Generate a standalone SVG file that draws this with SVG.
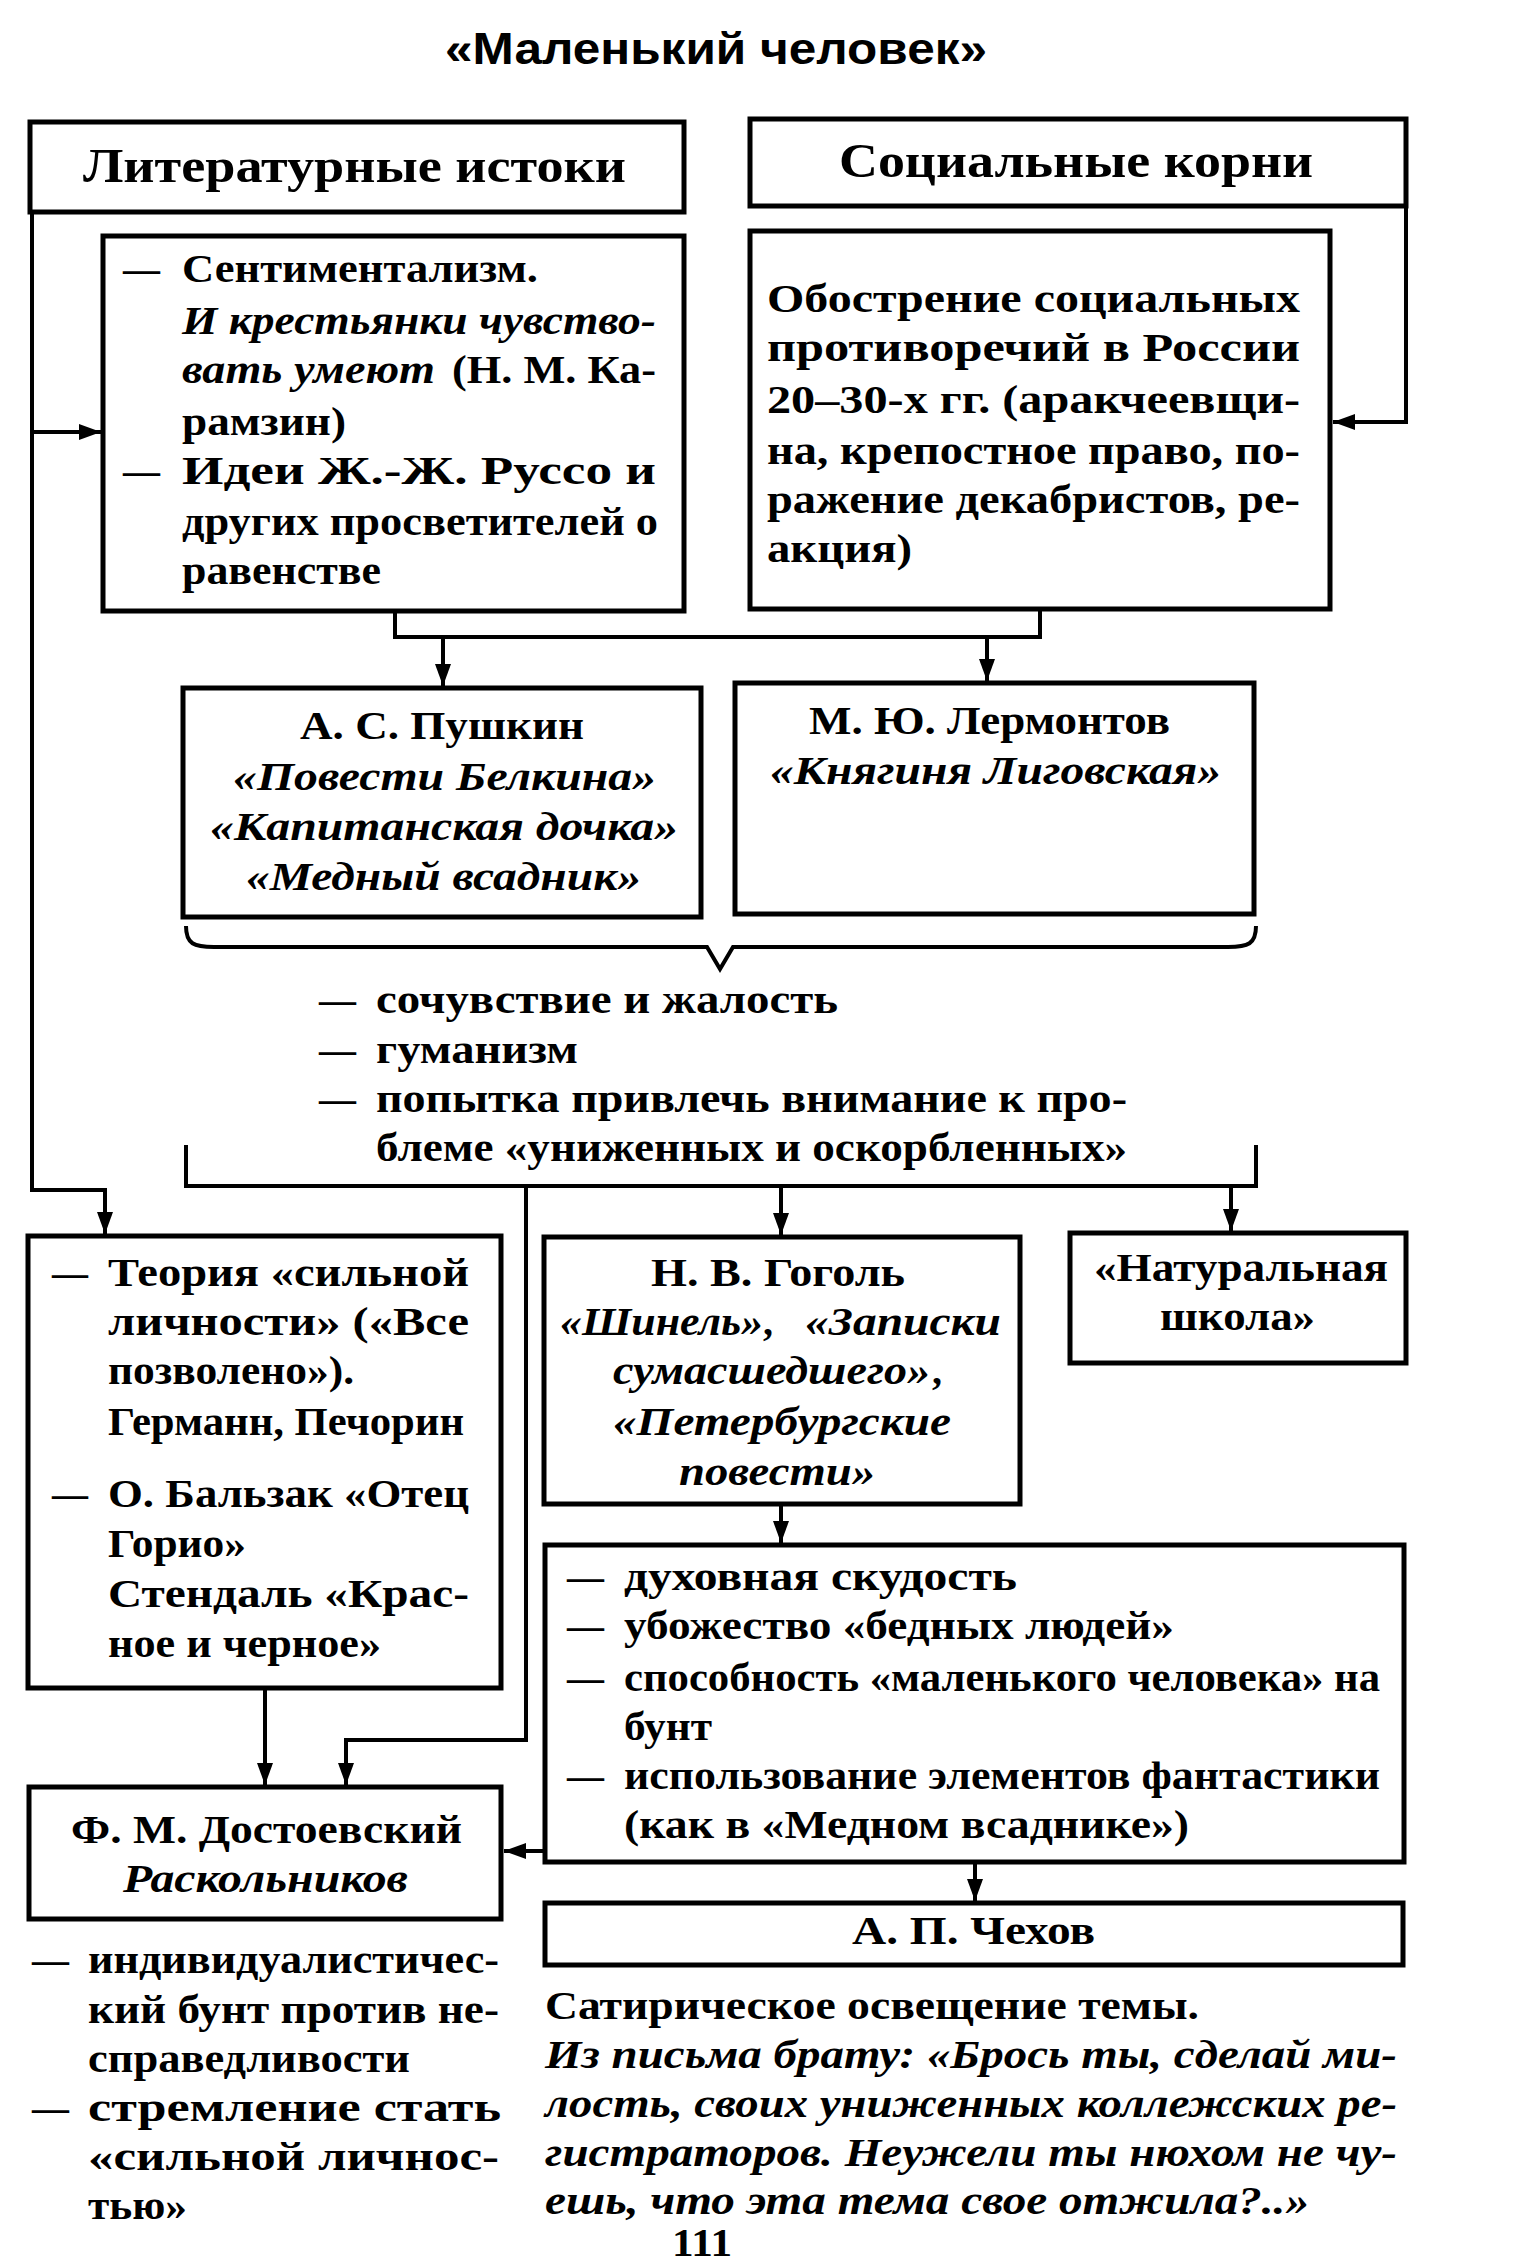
<svg xmlns="http://www.w3.org/2000/svg" width="1529" height="2267" viewBox="0 0 1529 2267">
<style>
.b{fill:#fff;stroke:#000;stroke-width:5}
.c{fill:none;stroke:#000;stroke-width:4}
.t{font-family:"Liberation Serif","DejaVu Serif",serif;font-size:40px;font-weight:bold;fill:#000}
.i{font-style:italic}
.h{font-size:48px}
.ttl{font-family:"Liberation Sans",Arial,sans-serif;font-size:44px;font-weight:bold;fill:#000}
</style>
<defs>
<marker id="ah" viewBox="0 0 22 16" refX="22" refY="8" markerWidth="22" markerHeight="16" orient="auto" markerUnits="userSpaceOnUse">
<path d="M0,0 L22,8 L0,16 z" fill="#000"/>
</marker>
</defs>
<rect x="0" y="0" width="1529" height="2267" fill="#fff"/>

<text class="ttl" x="445" y="64" textLength="542" lengthAdjust="spacingAndGlyphs">«Маленький человек»</text>

<g id="connectors">
<path class="c" d="M32 212 V1190 H105 V1234" marker-end="url(#ah)"/>
<path class="c" d="M32 432 H101" marker-end="url(#ah)"/>
<path class="c" d="M1406 206 V422 H1333" marker-end="url(#ah)"/>
<path class="c" d="M395 611 V637 H1040 V609"/>
<path class="c" d="M443 637 V686" marker-end="url(#ah)"/>
<path class="c" d="M987 637 V681" marker-end="url(#ah)"/>
<path class="c" d="M186 926 C186 944 194 947 214 947 L707 947 L720 969 L733 947 L1228 947 C1248 947 1256 944 1256 926"/>
<path class="c" d="M186 1145 V1186 H1256 V1145"/>
<path class="c" d="M781 1186 V1235" marker-end="url(#ah)"/>
<path class="c" d="M1231 1186 V1231" marker-end="url(#ah)"/>
<path class="c" d="M526 1186 V1740 H346 V1785" marker-end="url(#ah)"/>
<path class="c" d="M265 1688 V1785" marker-end="url(#ah)"/>
<path class="c" d="M781 1504 V1543" marker-end="url(#ah)"/>
<path class="c" d="M545 1851 H504" marker-end="url(#ah)"/>
<path class="c" d="M975 1862 V1901" marker-end="url(#ah)"/>
</g>

<g id="n-lit">
<rect class="b" x="30" y="122" width="654" height="90"/>
<text class="t h" x="83" y="182" textLength="543" lengthAdjust="spacingAndGlyphs">Литературные истоки</text>
</g>

<g id="n-soc">
<rect class="b" x="750" y="119" width="656" height="87"/>
<text class="t h" x="839" y="177" textLength="474" lengthAdjust="spacingAndGlyphs">Социальные корни</text>
</g>

<g id="n-sent">
<rect class="b" x="103" y="236" width="581" height="375"/>
<text class="t" x="123" y="282" textLength="37" lengthAdjust="spacingAndGlyphs">—</text>
<text class="t" x="182" y="282" textLength="356" lengthAdjust="spacingAndGlyphs">Сентиментализм.</text>
<text class="t i" x="182" y="334" textLength="474" lengthAdjust="spacingAndGlyphs">И крестьянки чувство-</text>
<text class="t i" x="182" y="383" textLength="253" lengthAdjust="spacingAndGlyphs">вать умеют</text>
<text class="t" x="452" y="383" textLength="204" lengthAdjust="spacingAndGlyphs">(Н. М. Ка-</text>
<text class="t" x="182" y="435" textLength="164" lengthAdjust="spacingAndGlyphs">рамзин)</text>
<text class="t" x="123" y="484" textLength="37" lengthAdjust="spacingAndGlyphs">—</text>
<text class="t" x="182" y="484" textLength="474" lengthAdjust="spacingAndGlyphs">Идеи Ж.-Ж. Руссо и</text>
<text class="t" x="182" y="535" textLength="476" lengthAdjust="spacingAndGlyphs">других просветителей о</text>
<text class="t" x="182" y="584" textLength="199" lengthAdjust="spacingAndGlyphs">равенстве</text>
</g>

<g id="n-obost">
<rect class="b" x="750" y="231" width="580" height="378"/>
<text class="t" x="767" y="312" textLength="533" lengthAdjust="spacingAndGlyphs">Обострение социальных</text>
<text class="t" x="767" y="361" textLength="533" lengthAdjust="spacingAndGlyphs">противоречий в России</text>
<text class="t" x="767" y="413" textLength="533" lengthAdjust="spacingAndGlyphs">20–30-х гг. (аракчеевщи-</text>
<text class="t" x="767" y="464" textLength="533" lengthAdjust="spacingAndGlyphs">на, крепостное право, по-</text>
<text class="t" x="767" y="513" textLength="533" lengthAdjust="spacingAndGlyphs">ражение декабристов, ре-</text>
<text class="t" x="767" y="562" textLength="145" lengthAdjust="spacingAndGlyphs">акция)</text>
</g>

<g id="n-pushkin">
<rect class="b" x="183" y="688" width="518" height="229"/>
<text class="t" x="300" y="739" textLength="284" lengthAdjust="spacingAndGlyphs">А. С. Пушкин</text>
<text class="t i" x="233" y="790" textLength="423" lengthAdjust="spacingAndGlyphs">«Повести Белкина»</text>
<text class="t i" x="210" y="840" textLength="468" lengthAdjust="spacingAndGlyphs">«Капитанская дочка»</text>
<text class="t i" x="246" y="890" textLength="395" lengthAdjust="spacingAndGlyphs">«Медный всадник»</text>
</g>

<g id="n-lermontov">
<rect class="b" x="735" y="683" width="519" height="231"/>
<text class="t" x="809" y="734" textLength="361" lengthAdjust="spacingAndGlyphs">М. Ю. Лермонтов</text>
<text class="t i" x="770" y="784" textLength="451" lengthAdjust="spacingAndGlyphs">«Княгиня Лиговская»</text>
</g>

<g id="n-common">
<text class="t" x="319" y="1013" textLength="37" lengthAdjust="spacingAndGlyphs">—</text>
<text class="t" x="376" y="1013" textLength="462" lengthAdjust="spacingAndGlyphs">сочувствие и жалость</text>
<text class="t" x="319" y="1063" textLength="37" lengthAdjust="spacingAndGlyphs">—</text>
<text class="t" x="376" y="1063" textLength="202" lengthAdjust="spacingAndGlyphs">гуманизм</text>
<text class="t" x="319" y="1112" textLength="37" lengthAdjust="spacingAndGlyphs">—</text>
<text class="t" x="376" y="1112" textLength="751" lengthAdjust="spacingAndGlyphs">попытка привлечь внимание к про-</text>
<text class="t" x="376" y="1161" textLength="751" lengthAdjust="spacingAndGlyphs">блеме «униженных и оскорбленных»</text>
</g>

<g id="n-teoria">
<rect class="b" x="28" y="1236" width="473" height="452"/>
<text class="t" x="52" y="1286" textLength="36" lengthAdjust="spacingAndGlyphs">—</text>
<text class="t" x="108" y="1286" textLength="361" lengthAdjust="spacingAndGlyphs">Теория «сильной</text>
<text class="t" x="108" y="1335" textLength="361" lengthAdjust="spacingAndGlyphs">личности» («Все</text>
<text class="t" x="108" y="1384" textLength="246" lengthAdjust="spacingAndGlyphs">позволено»).</text>
<text class="t" x="108" y="1435" textLength="356" lengthAdjust="spacingAndGlyphs">Германн, Печорин</text>
<text class="t" x="52" y="1507" textLength="36" lengthAdjust="spacingAndGlyphs">—</text>
<text class="t" x="108" y="1507" textLength="361" lengthAdjust="spacingAndGlyphs">О. Бальзак «Отец</text>
<text class="t" x="108" y="1557" textLength="138" lengthAdjust="spacingAndGlyphs">Горио»</text>
<text class="t" x="108" y="1607" textLength="361" lengthAdjust="spacingAndGlyphs">Стендаль «Крас-</text>
<text class="t" x="108" y="1657" textLength="273" lengthAdjust="spacingAndGlyphs">ное и черное»</text>
</g>

<g id="n-gogol">
<rect class="b" x="544" y="1237" width="476" height="267"/>
<text class="t" x="651" y="1286" textLength="254" lengthAdjust="spacingAndGlyphs">Н. В. Гоголь</text>
<text class="t i" x="560" y="1335" textLength="203" lengthAdjust="spacingAndGlyphs">«Шинель»</text>
<text class="t" x="763" y="1335">,</text>
<text class="t i" x="805" y="1335" textLength="196" lengthAdjust="spacingAndGlyphs">«Записки</text>
<text class="t i" x="613" y="1384" textLength="317" lengthAdjust="spacingAndGlyphs">сумасшедшего»</text>
<text class="t" x="932" y="1384">,</text>
<text class="t i" x="613" y="1435" textLength="338" lengthAdjust="spacingAndGlyphs">«Петербургские</text>
<text class="t i" x="679" y="1485" textLength="196" lengthAdjust="spacingAndGlyphs">повести»</text>
</g>

<g id="n-natur">
<rect class="b" x="1070" y="1233" width="336" height="130"/>
<text class="t" x="1094" y="1281" textLength="294" lengthAdjust="spacingAndGlyphs">«Натуральная</text>
<text class="t" x="1160" y="1330" textLength="155" lengthAdjust="spacingAndGlyphs">школа»</text>
</g>

<g id="n-duh">
<rect class="b" x="545" y="1545" width="859" height="317"/>
<text class="t" x="567" y="1590" textLength="37" lengthAdjust="spacingAndGlyphs">—</text>
<text class="t" x="624" y="1590" textLength="393" lengthAdjust="spacingAndGlyphs">духовная скудость</text>
<text class="t" x="567" y="1639" textLength="37" lengthAdjust="spacingAndGlyphs">—</text>
<text class="t" x="624" y="1639" textLength="550" lengthAdjust="spacingAndGlyphs">убожество «бедных людей»</text>
<text class="t" x="567" y="1691" textLength="37" lengthAdjust="spacingAndGlyphs">—</text>
<text class="t" x="624" y="1691" textLength="756" lengthAdjust="spacingAndGlyphs">способность «маленького человека» на</text>
<text class="t" x="624" y="1740" textLength="88" lengthAdjust="spacingAndGlyphs">бунт</text>
<text class="t" x="567" y="1789" textLength="37" lengthAdjust="spacingAndGlyphs">—</text>
<text class="t" x="624" y="1789" textLength="756" lengthAdjust="spacingAndGlyphs">использование элементов фантастики</text>
<text class="t" x="624" y="1838" textLength="565" lengthAdjust="spacingAndGlyphs">(как в «Медном всаднике»)</text>
</g>

<g id="n-dost">
<rect class="b" x="29" y="1787" width="472" height="132"/>
<text class="t" x="71" y="1843" textLength="391" lengthAdjust="spacingAndGlyphs">Ф. М. Достоевский</text>
<text class="t i" x="123" y="1892" textLength="285" lengthAdjust="spacingAndGlyphs">Раскольников</text>
</g>

<g id="n-dost-notes">
<text class="t" x="32" y="1973" textLength="37" lengthAdjust="spacingAndGlyphs">—</text>
<text class="t" x="88" y="1973" textLength="411" lengthAdjust="spacingAndGlyphs">индивидуалистичес-</text>
<text class="t" x="88" y="2023" textLength="411" lengthAdjust="spacingAndGlyphs">кий бунт против не-</text>
<text class="t" x="88" y="2072" textLength="322" lengthAdjust="spacingAndGlyphs">справедливости</text>
<text class="t" x="32" y="2121" textLength="37" lengthAdjust="spacingAndGlyphs">—</text>
<text class="t" x="88" y="2121" textLength="413" lengthAdjust="spacingAndGlyphs">стремление стать</text>
<text class="t" x="88" y="2170" textLength="411" lengthAdjust="spacingAndGlyphs">«сильной личнос-</text>
<text class="t" x="88" y="2219" textLength="99" lengthAdjust="spacingAndGlyphs">тью»</text>
</g>

<g id="n-chekhov">
<rect class="b" x="545" y="1903" width="858" height="62"/>
<text class="t" x="852" y="1944" textLength="243" lengthAdjust="spacingAndGlyphs">А. П. Чехов</text>
</g>

<g id="n-chekhov-notes">
<text class="t" x="545" y="2019" textLength="654" lengthAdjust="spacingAndGlyphs">Сатирическое освещение темы.</text>
<text class="t i" x="545" y="2068" textLength="852" lengthAdjust="spacingAndGlyphs">Из письма брату: «Брось ты, сделай ми-</text>
<text class="t i" x="545" y="2117" textLength="852" lengthAdjust="spacingAndGlyphs">лость, своих униженных коллежских ре-</text>
<text class="t i" x="545" y="2166" textLength="852" lengthAdjust="spacingAndGlyphs">гистраторов. Неужели ты нюхом не чу-</text>
<text class="t i" x="545" y="2214" textLength="764" lengthAdjust="spacingAndGlyphs">ешь, что эта тема свое отжила?..»</text>
</g>

<text class="t" x="672" y="2256" font-size="30" textLength="60" lengthAdjust="spacingAndGlyphs">111</text>
</svg>
